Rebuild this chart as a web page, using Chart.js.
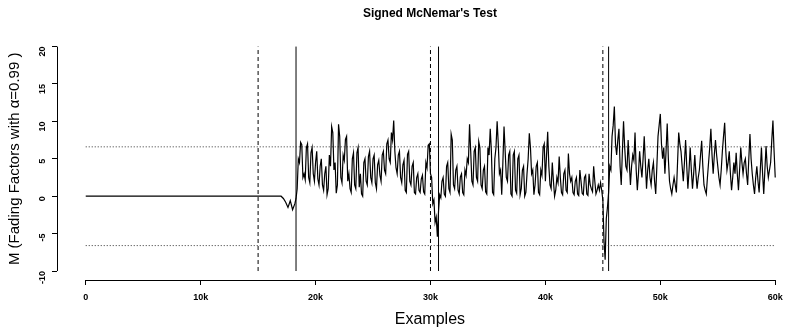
<!DOCTYPE html>
<html>
<head>
<meta charset="utf-8">
<script src="https://cdn.jsdelivr.net/npm/chart.js@4.4.1/dist/chart.umd.min.js"></script>
<style>
    html, body { margin: 0; padding: 0; background: #fff; }
    canvas { display: block; }
</style>
</head>
<body>
<canvas id="mcnemar" width="785" height="328"></canvas>
<script>
// number of examples seen (x) and the signed McNemar statistic (y)
const examples = [
    0, 17000, 17200, 17400, 17600, 17800, 18000, 18200, 18300,
    18400, 18500, 18600, 18700, 18800, 18900, 19000, 19100, 19200, 19300,
    19400, 19500, 19600, 19700, 19800, 19900, 20000, 20100, 20200, 20300,
    20400, 20500, 20600, 20700, 20800, 20900, 21000, 21100, 21200, 21300,
    21400, 21500, 21600, 21700, 21800, 21900, 22000, 22100, 22200, 22300,
    22400, 22500, 22600, 22700, 22800, 22900, 23000, 23100, 23200, 23300,
    23400, 23500, 23600, 23700, 23800, 23900, 24000, 24100, 24200, 24300,
    24400, 24500, 24600, 24700, 24800, 24900, 25000, 25100, 25200, 25300,
    25400, 25500, 25600, 25700, 25800, 25900, 26000, 26100, 26200, 26300,
    26400, 26500, 26600, 26700, 26800, 26900, 27000, 27100, 27200, 27300,
    27400, 27500, 27600, 27700, 27800, 27900, 28000, 28100, 28200, 28300,
    28400, 28500, 28600, 28700, 28800, 28900, 29000, 29100, 29200, 29300,
    29400, 29500, 29600, 29700, 29800, 29900, 30000, 30100, 30200, 30300,
    30400, 30500, 30600, 30700, 30800, 30900, 31000, 31100, 31200, 31300,
    31400, 31500, 31600, 31700, 31800, 31900, 32000, 32100, 32200, 32300,
    32400, 32500, 32600, 32700, 32800, 32900, 33000, 33100, 33200, 33300,
    33400, 33500, 33600, 33700, 33800, 33900, 34000, 34100, 34200, 34300,
    34400, 34500, 34600, 34700, 34800, 34900, 35000, 35100, 35200, 35300,
    35400, 35500, 35600, 35700, 35800, 35900, 36000, 36100, 36200, 36300,
    36400, 36500, 36600, 36700, 36800, 36900, 37000, 37100, 37200, 37300,
    37400, 37500, 37600, 37700, 37800, 37900, 38000, 38100, 38200, 38300,
    38400, 38500, 38600, 38700, 38800, 38900, 39000, 39100, 39200, 39300,
    39400, 39500, 39600, 39700, 39800, 39900, 40000, 40100, 40200, 40300,
    40400, 40500, 40600, 40700, 40800, 40900, 41000, 41100, 41200, 41300,
    41400, 41500, 41600, 41700, 41800, 41900, 42000, 42100, 42200, 42300,
    42400, 42500, 42600, 42700, 42800, 42900, 43000, 43100, 43200, 43300,
    43400, 43500, 43600, 43700, 43800, 43900, 44000, 44100, 44200, 44300,
    44400, 44500, 44600, 44700, 44800, 44900, 45000, 45100, 45200, 45300,
    45400, 45500, 45600, 45700, 45800, 45900, 46000, 46100, 46200, 46300,
    46400, 46500, 46600, 46700, 46800, 46900, 47000, 47100, 47200, 47300,
    47400, 47500, 47600, 47700, 47800, 47900, 48000, 48100, 48200, 48300,
    48400, 48500, 48600, 48700, 48800, 48900, 49000, 49100, 49200, 49300,
    49400, 49500, 49600, 49700, 49800, 49900, 50000, 50100, 50200, 50300,
    50400, 50500, 50600, 50700, 50800, 50900, 51000, 51100, 51200, 51300,
    51400, 51500, 51600, 51700, 51800, 51900, 52000, 52100, 52200, 52300,
    52400, 52500, 52600, 52700, 52800, 52900, 53000, 53100, 53200, 53300,
    53400, 53500, 53600, 53700, 53800, 53900, 54000, 54100, 54200, 54300,
    54400, 54500, 54600, 54700, 54800, 54900, 55000, 55100, 55200, 55300,
    55400, 55500, 55600, 55700, 55800, 55900, 56000, 56100, 56200, 56300,
    56400, 56500, 56600, 56700, 56800, 56900, 57000, 57100, 57200, 57300,
    57400, 57500, 57600, 57700, 57800, 57900, 58000, 58100, 58200, 58300,
    58400, 58500, 58600, 58700, 58800, 58900, 59000, 59100, 59200, 59300,
    59400, 59500, 59600, 59700, 59800, 59900, 60000
];
const mValues = [
    0, 0, -0.3, -0.8, -1.5, -0.6, -1.8, -1.0, -0.3,
    1.0, 5.0, 4.5, 7.2, 6.9, 2.5, 3.0, 2.2, 6.5, 7.0,
    2.5, 1.8, 5.8, 6.5, 3.0, 2.0, 4.5, 6.0, 2.3, 1.5,
    4.0, 5.0, 1.5, 0.8, 3.0, 4.0, 0.2, 1.0, 5.5, 4.0,
    9.3, 8.5, 3.5, 4.5, 0.4, 1.5, 9.6, 8.0, 2.5, 1.8,
    5.5, 4.8, 7.6, 8.0, 2.0, 3.0, 1.0, 0.5, 5.0, 5.8,
    1.5, 1.0, 5.8, 6.5, 1.2, 3.0, 0.3, 0.0, 4.5, 5.0,
    2.0, 1.5, 5.3, 6.0, 2.5, 1.8, 5.0, 5.5, 1.8, 1.0,
    4.2, 4.8, 2.8, 2.0, 5.5, 6.0, 3.5, 3.0, 7.0, 7.5,
    5.0, 4.5, 8.5, 7.5, 10.1, 6.0, 3.8, 3.0, 5.5, 6.0,
    2.5, 1.8, 4.2, 4.8, 0.8, 0.5, 5.6, 6.0, 2.0, 1.5,
    4.0, 4.5, 0.5, 0.3, 2.5, 3.0, 0.8, 0.5, 2.3, 2.8,
    0.6, 0.3, 4.5, 3.8, 6.8, 7.0, 3.0, 2.5, -1.0, -0.5,
    -3.5, -2.8, -5.4, -2.0, 0.2, -0.2, 2.0, 2.5, 0.3, 0.0,
    4.0, 4.5, 1.0, 0.5, 8.3, 7.5, 1.5, 1.0, 3.5, 4.0,
    0.8, 0.3, 2.6, 3.0, 0.5, 0.2, 3.5, 2.8, 5.0, 4.5,
    9.6, 6.0, 2.0, 1.5, 6.0, 6.5, 2.5, 2.0, 7.3, 6.5,
    1.5, 1.0, 3.5, 4.0, 0.6, 0.3, 6.5, 5.5, 9.0, 6.0,
    0.5, 0.2, 5.0, 6.5, 10.0, 7.0, 3.0, 3.5, 0.2, 4.5,
    9.3, 6.0, 2.5, 2.0, 5.5, 6.0, 0.3, 0.0, 5.5, 6.0,
    0.8, 0.4, 5.0, 5.5, 0.2, 1.0, 3.5, 4.0, 0.0, 0.5,
    3.0, 5.0, 8.4, 6.5, 3.0, 3.5, 0.2, 1.5, 4.0, 4.5,
    0.5, 0.2, 3.5, 2.8, 6.5, 7.0, 2.0, 5.5, 8.6, 4.0,
    1.5, 1.0, 4.5, 2.0, 0.0, 0.8, 2.5, 1.8, 5.3, 2.5,
    0.5, 0.2, 3.0, 3.5, 0.8, 0.5, 5.7, 3.0, 2.0, 2.5,
    0.5, 0.2, 2.0, 2.5, 0.3, 0.1, 3.5, 2.0, 0.4, 0.2,
    2.5, 2.8, 0.3, 0.1, 3.0, 1.5, 1.0, 0.6, 4.0, 2.0,
    0.3, 0.8, 1.5, 0.8, 1.8, 0.8, -0.5, -6.0, -8.5, -3.0,
    -1.5, 0.5, 4.0, 3.5, 8.0, 9.5, 12.0, 7.0, 5.5, 7.5,
    9.0, 4.0, 1.5, 6.0, 10.0, 6.5, 4.0, 3.5, 7.5, 4.5,
    1.5, 4.0, 5.5, 4.8, 8.5, 3.5, 0.8, 3.0, 6.0, 4.0,
    2.5, 5.0, 8.0, 4.5, 1.0, 3.5, 5.0, 2.5, 1.5, 3.5,
    4.5, 2.0, 0.3, 4.0, 8.0, 9.5, 11.0, 7.0, 5.0, 6.5,
    3.0, 6.0, 9.7, 5.0, 2.0, 1.0, 0.3, 1.5, 2.5, 1.5,
    0.5, 4.5, 8.5, 7.0, 6.0, 4.0, 2.0, 4.5, 7.5, 4.0,
    1.0, 3.5, 6.5, 3.5, 1.0, 3.0, 5.5, 3.0, 1.0, 2.5,
    3.5, 5.5, 7.4, 4.0, 1.5, 0.8, 0.3, 2.5, 4.5, 6.5,
    9.0, 5.5, 3.0, 5.5, 7.5, 5.5, 4.0, 2.5, 1.5, 3.5,
    6.0, 8.0, 9.8, 6.0, 3.5, 4.5, 6.0, 3.0, 0.8, 2.5,
    4.5, 3.0, 5.8, 3.0, 0.8, 3.5, 6.5, 4.5, 3.0, 4.5,
    5.0, 3.0, 1.5, 5.0, 8.3, 5.0, 3.0, 1.5, 0.3, 2.5,
    4.0, 2.0, 0.5, 3.5, 6.5, 3.0, 0.3, 3.5, 6.7, 4.0,
    2.5, 3.5, 4.5, 7.5, 10.1, 6.0, 2.5
];

// drift points (dashed) and detection points (solid)
const driftAt = [15000, 30000, 45000];
const detectAt = [18300, 30700, 45500];
const threshold = 6.6;

const xTicks = [0, 10000, 20000, 30000, 40000, 50000, 60000];
const yTicks = [-10, -5, 0, 5, 10, 15, 20];

const chartTitle = "Signed McNemar's Test";
const xTitle = 'Examples';
const yTitle = 'M (Fading Factors with α=0.99 )';

const fontFamily = 'Liberation Sans, Arial, sans-serif';

// R style axes: the axis line only runs from the first to the last tick,
// and the titles are centred on the plot region rather than the canvas
const rAxes = {
    id: 'rAxes',
    afterDraw(chart) {
        const { ctx, chartArea } = chart;
        const x = chart.scales.x;
        const y = chart.scales.y;
        ctx.save();
        ctx.strokeStyle = '#000';
        ctx.lineWidth = 1;
        ctx.beginPath();
        const by = Math.round(chartArea.bottom) + 0.5;
        ctx.moveTo(x.getPixelForValue(xTicks[0]), by);
        ctx.lineTo(x.getPixelForValue(xTicks[xTicks.length - 1]), by);
        const lx = Math.round(chartArea.left) + 0.5;
        ctx.moveTo(lx, y.getPixelForValue(yTicks[0]));
        ctx.lineTo(lx, y.getPixelForValue(yTicks[yTicks.length - 1]));
        ctx.stroke();

        const cx = x.getPixelForValue((x.min + 60000 + 2400) / 2);
        ctx.fillStyle = '#000';
        ctx.textAlign = 'center';
        ctx.textBaseline = 'middle';
        ctx.font = 'bold 12px ' + fontFamily;
        ctx.fillText(chartTitle, cx, 14);
        ctx.font = '16px ' + fontFamily;
        ctx.fillText(xTitle, cx, 320);
        ctx.restore();
    },
};

function vLine(at, dash) {
    return {
        data: [{ x: at, y: yTicks[0] }, { x: at, y: yTicks[yTicks.length - 1] }],
        borderColor: '#000',
        borderWidth: 1,
        borderDash: dash,
    };
}

function hLine(at) {
    return {
        data: [{ x: xTicks[0], y: at }, { x: xTicks[xTicks.length - 1], y: at }],
        borderColor: '#333',
        borderWidth: 1,
        borderDash: [1, 2],
    };
}

const datasets = [
    {
        data: examples.map((e, i) => ({ x: e, y: mValues[i] })),
        borderColor: '#000',
        borderWidth: 1.2,
    },
    hLine(threshold),
    hLine(-threshold),
]
    .concat(driftAt.map((d) => vLine(d, [4, 3])))
    .concat(detectAt.map((d) => vLine(d, [])));

const tickFont = { family: fontFamily, size: 9, weight: 'bold' };

new Chart(document.getElementById('mcnemar'), {
    type: 'line',
    data: { datasets },
    options: {
        responsive: false,
        animation: false,
        devicePixelRatio: 1,
        layout: { padding: { top: 37.6, left: 0, right: 0, bottom: 0 } },
        elements: {
            point: { radius: 0 },
            line: { tension: 0 },
        },
        plugins: {
            legend: { display: false },
            tooltip: { enabled: false },
            title: { display: false },
        },
        scales: {
            x: {
                type: 'linear',
                min: -2500,
                max: 60850,
                afterBuildTicks: (scale) => {
                    scale.ticks = xTicks.map((v) => ({ value: v }));
                },
                afterFit: (scale) => {
                    scale.height = 48;
                    scale.paddingLeft = 0;
                    scale.paddingRight = 0;
                },
                ticks: {
                    color: '#000',
                    font: tickFont,
                    padding: 7,
                    maxRotation: 0,
                    callback: (v) => (v === 0 ? '0' : v / 1000 + 'k'),
                },
                grid: { drawOnChartArea: false, color: '#000', tickLength: 5 },
                border: { display: false },
            },
            y: {
                type: 'linear',
                min: -11.2,
                max: 21.2,
                afterBuildTicks: (scale) => {
                    scale.ticks = yTicks.map((v) => ({ value: v }));
                },
                afterFit: (scale) => {
                    scale.width = 57;
                },
                ticks: {
                    color: '#000',
                    font: tickFont,
                    padding: 9,
                    minRotation: 90,
                    maxRotation: 90,
                },
                grid: { drawOnChartArea: false, color: '#000', tickLength: 5 },
                border: { display: false },
                title: {
                    display: true,
                    text: yTitle,
                    color: '#000',
                    font: { family: fontFamily, size: 15, lineHeight: 1.2 },
                    padding: { top: 6, bottom: 0 },
                },
            },
        },
    },
    plugins: [rAxes],
});
</script>
</body>
</html>
